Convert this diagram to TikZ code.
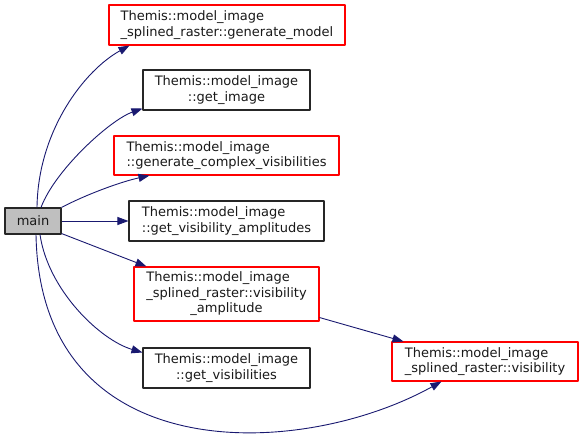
\documentclass[tikz,border=0pt]{standalone}
\usepackage{fontspec}
\setmainfont{DejaVu Sans}
\usetikzlibrary{arrows.meta}
\definecolor{calledge}{HTML}{191970}
\definecolor{truncred}{HTML}{FF0000}
\definecolor{mainfill}{HTML}{BFBFBF}

\begin{document}
\begin{tikzpicture}[
  x=1pt,
  y=-1pt,
  line join=round,
  fn/.style={draw=black!85,line width=1.05pt,fill=white,inner sep=0pt,
    font=\fontsize{13}{15.5}\selectfont,text=black!90},
  trunc/.style={fn,draw=truncred},
  call/.style={draw=calledge,line width=0.9pt,-{Triangle[length=11pt,width=8pt]}}
]
  \useasboundingbox (0,0) rectangle (584,439);

  % Caller on the left, callees stacked in one column, leaf on the right.
  \node[fn,fill=mainfill,minimum width=56pt,minimum height=26pt] (main) at (33,221) {main};
  \node[trunc,minimum width=236pt,minimum height=40pt,align=left] (genmodel) at (227,25)
    {Themis::model\_image\\\_splined\_raster::generate\_model};
  \node[fn,minimum width=167pt,minimum height=40pt,align=center] (getimage) at (226.5,90)
    {Themis::model\_image\\::get\_image};
  \node[trunc,minimum width=225pt,minimum height=39pt,align=left] (gencomplex) at (226.5,155.5)
    {Themis::model\_image\\::generate\_complex\_visibilities};
  \node[fn,minimum width=195pt,minimum height=40pt,align=left] (getvisamp) at (226.5,221)
    {Themis::model\_image\\::get\_visibility\_amplitudes};
  \node[trunc,minimum width=185pt,minimum height=54pt] (visamp) at (226.5,294)
    {\begin{tabular}{@{}l@{}}Themis::model\_image\\\_splined\_raster::visibility\\
     \multicolumn{1}{@{}c@{}}{\_amplitude}\end{tabular}};
  \node[fn,minimum width=167pt,minimum height=40pt,align=center] (getvis) at (226.5,368)
    {Themis::model\_image\\::get\_visibilities};
  \node[trunc,minimum width=186pt,minimum height=39pt,align=left] (visibility) at (485,361.5)
    {Themis::model\_image\\\_splined\_raster::visibility};

  % Calls made by main.
  \draw[call] ([xshift=4pt]main.north) .. controls (38,130) and (85,70) .. ([xshift=21pt]genmodel.south west);
  \draw[call] ([xshift=8pt]main.north) .. controls (55,170) and (110,120) .. ([yshift=2pt]getimage.south west);
  \draw[call] (main.north east) .. controls (85,195) and (120,182) .. ([xshift=36pt]gencomplex.south west);
  \draw[call] (main.east) -- (getvisamp.west);
  \draw[call] ([yshift=1pt]main.south east) -- ([xshift=13pt]visamp.north west);
  \draw[call] ([xshift=7pt]main.south) .. controls (48,290) and (100,340) .. ([yshift=-5pt]getvis.north west);
  \draw[call] ([xshift=3pt]main.south) .. controls (40,470) and (300,460) .. ([xshift=50pt]visibility.south west);

  % Second level.
  \draw[call] ([yshift=4pt]visamp.south east) -- ([xshift=12pt]visibility.north west);
\end{tikzpicture}
\end{document}
